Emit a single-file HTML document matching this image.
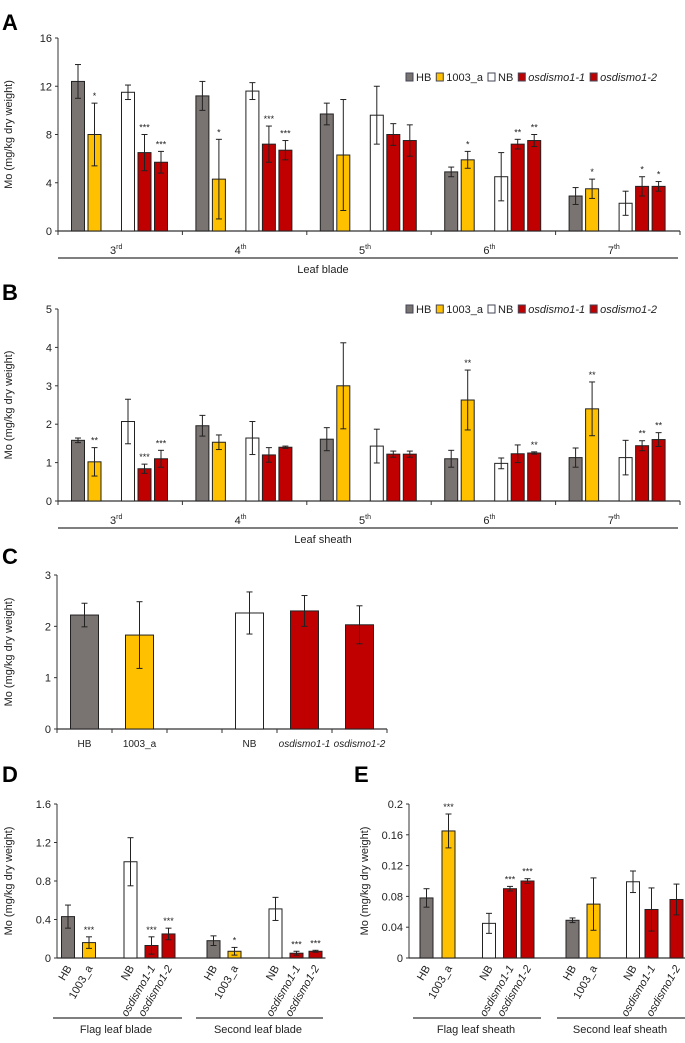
<!DOCTYPE html>
<html><head><meta charset="utf-8"><style>
body{margin:0;background:#fff;font-family:"Liberation Sans",Arial,sans-serif;}
svg text{font-family:"Liberation Sans",Arial,sans-serif;}
</style></head><body>
<svg id="fig" width="685" height="1038" viewBox="0 0 685 1038" xmlns="http://www.w3.org/2000/svg">
<text x="2" y="30" font-size="22" font-weight="bold">A</text>
<text x="2" y="300" font-size="22" font-weight="bold">B</text>
<text x="2" y="564" font-size="22" font-weight="bold">C</text>
<text x="2" y="782" font-size="22" font-weight="bold">D</text>
<text x="354" y="782" font-size="22" font-weight="bold">E</text>
</svg>
<script>
const genotypes=["HB","1003_a","NB","osdismo1-1","osdismo1-2"];
const colors=["#797371","#ffc000","#ffffff","#c00000","#c00000"];
const leafCats=["3","4","5","6","7"];
const leafSup=["rd","th","th","th","th"];
// Panel A
const aVals=[[12.4,8.0,11.5,6.5,5.7],[11.2,4.3,11.6,7.2,6.7],[9.7,6.3,9.6,8.0,7.5],[4.9,5.9,4.5,7.2,7.5],[2.9,3.5,2.3,3.7,3.7]];
const aErr=[[1.4,2.6,0.6,1.5,0.9],[1.2,3.3,0.7,1.5,0.8],[0.9,4.6,2.4,0.9,1.3],[0.4,0.7,2.0,0.4,0.5],[0.7,0.8,1.0,0.8,0.4]];
const aSig=[["","*","","***","***"],["","*","","***","***"],["","","","",""],["","*","","**","**"],["","*","","*","*"]];
const aTicks=[0,4,8,12,16];
// Panel B
const bVals=[[1.58,1.02,2.07,0.84,1.1],[1.96,1.53,1.64,1.2,1.4],[1.61,3.0,1.43,1.22,1.22],[1.1,2.63,0.98,1.23,1.25],[1.13,2.4,1.13,1.44,1.6]];
const bErr=[[0.06,0.37,0.58,0.12,0.22],[0.27,0.19,0.43,0.19,0.03],[0.3,1.12,0.44,0.08,0.08],[0.22,0.78,0.14,0.23,0.03],[0.25,0.7,0.45,0.13,0.18]];
const bSig=[["","**","","***","***"],["","","","",""],["","","","",""],["","**","","","**"],["","**","","**","**"]];
const bTicks=[0,1,2,3,4,5];
// Panel C
const cVals=[2.22,1.83,2.26,2.3,2.03];
const cErr=[0.23,0.65,0.41,0.3,0.37];
const cTicks=[0,1,2,3];
// Panel D
const dGroups=["Flag leaf blade","Second leaf blade"];
const dVals=[[0.43,0.16,1.0,0.13,0.25],[0.18,0.07,0.51,0.05,0.07]];
const dErr=[[0.12,0.06,0.25,0.09,0.06],[0.05,0.04,0.12,0.02,0.01]];
const dSig=[["","***","","***","***"],["","*","","***","***"]];
const dTicks=[0,0.4,0.8,1.2,1.6];
// Panel E
const eGroups=["Flag leaf sheath","Second leaf sheath"];
const eVals=[[0.078,0.165,0.045,0.09,0.1],[0.049,0.07,0.099,0.063,0.076]];
const eErr=[[0.012,0.022,0.013,0.003,0.003],[0.003,0.034,0.014,0.028,0.02]];
const eSig=[["","***","","***","***"],["","","","",""]];
const eTicks=[0,0.04,0.08,0.12,0.16,0.2];

const svg=document.getElementById('fig');
const NS="http://www.w3.org/2000/svg";
function el(tag,attrs,parent){const e=document.createElementNS(NS,tag);for(const k in attrs)e.setAttribute(k,attrs[k]);(parent||svg).appendChild(e);return e;}
function txt(x,y,s,size,anchor,parent){const t=el('text',{x:x,y:y,'font-size':size,'text-anchor':anchor||'middle',fill:'#222'},parent);t.textContent=s;return t;}

function yAxis(g,x0,y0,y1,ticks,max,fmt,titleX){
  const ys=v=>y0-(v/max)*(y0-y1);
  const ln=el('line',{x1:x0,y1:y0,x2:x0,y2:y1,stroke:'#333','stroke-width':1},g);
  
  
  ticks.forEach(t=>{
    el('line',{x1:x0-3,y1:ys(t),x2:x0,y2:ys(t),stroke:'#333'},g);
    const lb=txt(x0-6,ys(t)+4,fmt(t),11,'end',g);
    
    
  });
  const cy=(y0+y1)/2;
  const tt=txt(titleX,cy,'Mo (mg/kg dry weight)',11,'middle',g);
  tt.setAttribute('transform','rotate(-90 '+titleX+' '+cy+')');
  
  
  return ys;
}
function bar(g,cx,w,v,e,ys,color,sig,name){
  const r=el('rect',{x:cx-w/2,y:ys(v),width:w,height:ys(0)-ys(v),fill:color,stroke:'#222','stroke-width':1},g);
  
  
  const top=ys(v+e),bot=ys(Math.max(0,v-e));
  el('line',{x1:cx,y1:top,x2:cx,y2:bot,stroke:'#222'},g);
  el('line',{x1:cx-3,y1:top,x2:cx+3,y2:top,stroke:'#222'},g);
  el('line',{x1:cx-3,y1:bot,x2:cx+3,y2:bot,stroke:'#222'},g);
  if(sig){const s=txt(cx,top-4,sig,9,'middle',g);
    
    }
}
function legend(g,x,y){
  let cx=x;
  genotypes.forEach((n,i)=>{
    const r=el('rect',{x:cx,y:y-4,width:7,height:8,fill:colors[i],stroke:'#445'},g);
    
    
    const t=txt(cx+10,y+4,n,11,'start',g);
    
    
    if(i>=3)t.setAttribute('font-style','italic');
    cx+=10+t.getComputedTextLength()+5;
  });
}
function leafPanel(name,vals,errs,sigs,ticks,max,y0,y1,fmt,catY,lineY,title,titleY,legY){
  const g=el('g',{});  
  const x0=58,x1=680,gw=(x1-x0)/leafCats.length;
  const ys=yAxis(g,x0,y0,y1,ticks,max,fmt,12);
  el('line',{x1:x0,y1:y0,x2:x1,y2:y0,stroke:'#333','stroke-width':1.2},g);
  const offs=[20,36.5,70,86.5,103];
  leafCats.forEach((c,gi)=>{
    const gx=x0+gi*gw;
    el('line',{x1:gx,y1:y0,x2:gx,y2:y0+4,stroke:'#333'},g);
    vals[gi].forEach((v,i)=>bar(g,gx+offs[i]*gw/124.4,13,v,errs[gi][i],ys,colors[i],sigs[gi][i],'bar-'+c+'-'+genotypes[i]));
    const t=txt(gx+gw/2-4,catY,c,11,'middle',g);
    const sp=document.createElementNS(NS,'tspan');sp.setAttribute('font-size','7');sp.setAttribute('dy','-5');sp.textContent=leafSup[gi];t.appendChild(sp);
    
    
  });
  el('line',{x1:x1,y1:y0,x2:x1,y2:y0+4,stroke:'#333'},g);
  el('line',{x1:x0,y1:lineY,x2:x1-2,y2:lineY,stroke:'#333','stroke-width':1.2},g);
  const tt=txt(323,titleY,title,11,'middle',g);
  
  
  legend(g,406,legY);
}
leafPanel('panel-a-chart',aVals,aErr,aSig,aTicks,16,231,38,v=>String(v),254,258,'Leaf blade',273,77);
leafPanel('panel-b-chart',bVals,bErr,bSig,bTicks,5,501,309,v=>String(v),524,528,'Leaf sheath',543,309);

// Panel C
(function(){
  const g=el('g',{});  
  const x0=57,x1=387,y0=729,y1=575;
  const ys=yAxis(g,x0,y0,y1,cTicks,3,v=>String(v),12);
  el('line',{x1:x0,y1:y0,x2:x1,y2:y0,stroke:'#333','stroke-width':1.2},g);
  const sw=(x1-x0)/6;
  for(let k=0;k<=6;k++)el('line',{x1:x0+k*sw,y1:y0,x2:x0+k*sw,y2:y0+4,stroke:'#333'},g);
  const slots=[0,1,3,4,5];
  cVals.forEach((v,i)=>{
    const cx=x0+slots[i]*sw+sw/2-(i<2?0:0);
    bar(g,cx,28,v,cErr[i],ys,colors[i],'','bar-'+genotypes[i]);
    const t=txt(cx,747,genotypes[i],10,'middle',g);
    if(i>=3)t.setAttribute('font-style','italic');
    
    
  });
})();

function smallPanel(name,groups,vals,errs,sigs,ticks,max,fmt,x0,centers,lines,titleX,titleCenters){
  const g=el('g',{});  
  const y0=958,y1=804;
  const ys=yAxis(g,x0,y0,y1,ticks,max,fmt,titleX);
  const xEnd=centers[1][4]+10;
  el('line',{x1:x0,y1:y0,x2:xEnd,y2:y0,stroke:'#333','stroke-width':1.2},g);
  groups.forEach((gn,gi)=>{
    vals[gi].forEach((v,i)=>{
      const cx=centers[gi][i];
      bar(g,cx,13,v,errs[gi][i],ys,colors[i],sigs[gi][i],'bar-'+gn.replace(/ /g,'-').toLowerCase()+'-'+genotypes[i]);
      const t=txt(cx+4,y0+10,genotypes[i],11,'end',g);
      t.setAttribute('transform','rotate(-60 '+(cx+4)+' '+(y0+10)+')');
      if(i>=3)t.setAttribute('font-style','italic');
      
      
    });
    el('line',{x1:lines[gi][0],y1:1018,x2:lines[gi][1],y2:1018,stroke:'#333','stroke-width':1.2},g);
    const tt=txt(titleCenters[gi],1033,gn,11,'middle',g);
    
    
  });
}
smallPanel('panel-d-chart',dGroups,dVals,dErr,dSig,dTicks,1.6,v=>v===0?'0':v.toFixed(1),57,
  [[68,89,130.5,151.5,168.5],[213.5,234.5,275.5,296.5,315.5]],[[53,182],[196,323]],12,[116,258]);
smallPanel('panel-e-chart',eGroups,eVals,eErr,eSig,eTicks,0.2,v=>v===0?'0':String(+v.toFixed(2)),409,
  [[426.5,448.5,489,510,527.5],[572.5,593.5,633,651.5,676.5]],[[413,541],[557,685]],368,[476,620]);
</script>
</body></html>
